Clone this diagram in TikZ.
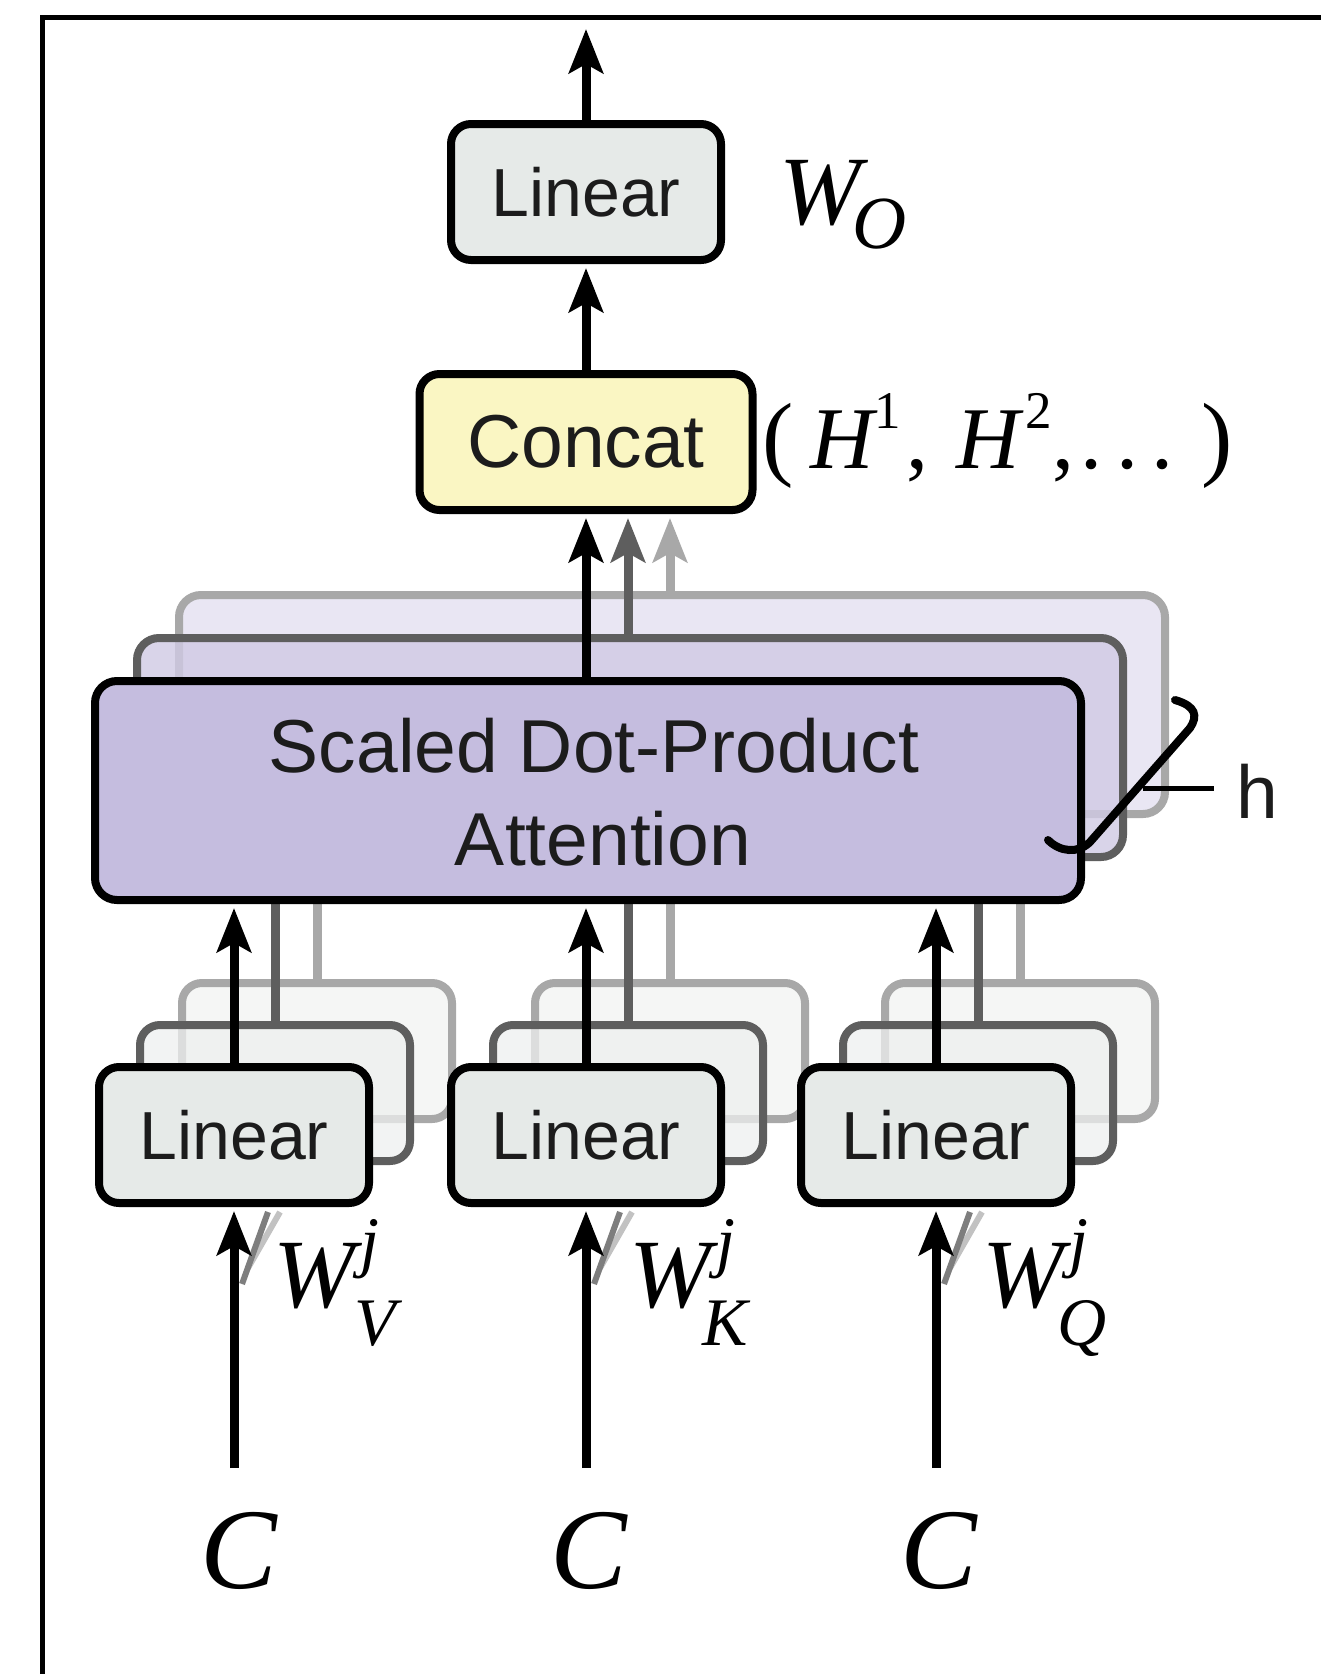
\documentclass[tikz,border=0pt]{standalone}
\usepackage{fontspec}
\setmainfont{Liberation Serif}
\setsansfont{Liberation Sans}
\usetikzlibrary{arrows.meta}
\definecolor{linfill}{HTML}{E6EAE8}
\definecolor{linfillB}{HTML}{EEF0EF}
\definecolor{linfillC}{HTML}{F5F6F5}
\definecolor{catfill}{HTML}{FAF6C3}
\definecolor{attfill}{HTML}{C5BDDF}
\definecolor{attfillB}{HTML}{D0CAE4}
\definecolor{attfillC}{HTML}{E9E6F3}
\definecolor{grayB}{HTML}{5E5E5E}
\definecolor{grayC}{HTML}{A8A8A8}
\definecolor{ink}{HTML}{1C1C1C}
\newcommand\fsz[1]{\fontsize{#1}{#1}\selectfont}
\begin{document}
\begin{tikzpicture}[x=1pt,y=-1pt,
  lin/.style={draw=black, line width=8pt, rounded corners=20pt, fill=linfill, text=ink,
    minimum width=270pt, minimum height=136pt, inner sep=0pt, font=\sffamily\fsz{68}},
  linB/.style={lin, draw=grayB, fill=linfillB, fill opacity=0.75},
  linC/.style={lin, draw=grayC, fill=linfillC},
  catbox/.style={lin, fill=catfill, minimum width=333pt, font=\sffamily\fsz{75}},
  att/.style={draw=black, line width=8pt, rounded corners=22pt, fill=attfill,
    minimum width=986pt, minimum height=219pt, inner sep=0pt},
  attB/.style={att, draw=grayB, fill=attfillB, fill opacity=0.8},
  attC/.style={att, draw=grayC, fill=attfillC},
  arr/.style={line width=9pt, -{Stealth[length=44pt,width=34pt,inset=9pt]}, shorten >=4pt},
  arrB/.style={arr, draw=grayB, color=grayB},
  arrC/.style={arr, draw=grayC, color=grayC},
  lineB/.style={line width=9pt, draw=grayB},
  lineC/.style={line width=9pt, draw=grayC},
  txt/.style={inner sep=0pt, anchor=base west},
  sans/.style={inner sep=0pt, anchor=base, text=ink, font=\sffamily\fsz{75}}
]
\useasboundingbox (0,0) rectangle (1321,1674);
\fill[white] (0,0) rectangle (1321,1674);
% frame
\draw[line width=5pt] (42.5,1700) -- (42.5,17) -- (1340,17);

% ---------- layer 3 (lightest) ----------
\node[attC] (attc) at (672,704.5) {};
\node[linC] (lc1) at (317,1051) {};
\node[linC] (lc2) at (670,1051) {};
\node[linC] (lc3) at (1020,1051) {};
\draw[lineC] (lc1.north) -- (lc1.north |- attc.south);
\draw[lineC] (lc2.north) -- (lc2.north |- attc.south);
\draw[lineC] (lc3.north) -- (lc3.north |- attc.south);

% ---------- layer 2 ----------
\node[attB] (attb) at (630,747.5) {};
\node[linB] (lb1) at (275,1093) {};
\node[linB] (lb2) at (628,1093) {};
\node[linB] (lb3) at (978,1093) {};
\draw[lineB] (lb1.north) -- (lb1.north |- attb.south);
\draw[lineB] (lb2.north) -- (lb2.north |- attb.south);
\draw[lineB] (lb3.north) -- (lb3.north |- attb.south);

% ---------- top part ----------
\node[catbox] (cat) at (586,442) {Concat};
\node[lin] (lin0) at (586,192) {Linear};
\coordinate (out) at (586,29);
\draw[arr, shorten >=0pt] (lin0.north) -- (out);
\draw[arr] (cat.north) -- (lin0.south);
\draw[arrC] (lc2.north |- attc.north) -- (lc2.north |- cat.south);
\draw[arrB] (lb2.north |- attb.north) -- (lb2.north |- cat.south);

% ---------- front layer ----------
\node[att] (atta) at (588,790.5) {};
\node[sans] (t1) at (594,772) {Scaled Dot-Product};
\node[sans] (t2) at (603,865) {Attention};
\draw[arr] (atta.north -| cat.south) -- (cat.south);

% input gray diagonals
\foreach \cx/\n in {234/1,586/2,936/3}{
  \coordinate (dgA\n) at (\cx+8,1284);
  \coordinate (dgB\n) at (\cx+34,1212);
  \coordinate (dgC\n) at (\cx+14,1268);
  \coordinate (dgD\n) at (\cx+46,1212);
  \draw[grayC!70, line width=6pt] (dgC\n) -- (dgD\n);
  \draw[grayB!80, line width=6pt] (dgA\n) -- (dgB\n);
}

\node[lin] (la1) at (234,1135) {Linear};
\node[lin] (la2) at (586,1135) {Linear};
\node[lin] (la3) at (936,1135) {Linear};
\draw[arr] (la1.north) -- (la1.north |- atta.south);
\draw[arr] (la2.north) -- (la2.north |- atta.south);
\draw[arr] (la3.north) -- (la3.north |- atta.south);

\coordinate (in1) at (234,1468);
\coordinate (in2) at (586,1468);
\coordinate (in3) at (936,1468);
\draw[arr] (in1) -- (la1.south);
\draw[arr] (in2) -- (la2.south);
\draw[arr] (in3) -- (la3.south);

% ---------- h bracket ----------
\coordinate (hb0) at (1175,700);
\coordinate (hb1) at (1190,728);
\coordinate (hb2) at (1090,842);
\coordinate (hb3) at (1048,840);
\draw[line width=8pt, line cap=round] (hb0) .. controls (1196,706) and (1198,716) .. (hb1) -- (hb2) .. controls (1078,854) and (1060,852) .. (hb3);
\coordinate (ht0) at (1143,788);
\coordinate (ht1) at (1214,788);
\draw[line width=5pt] (ht0) -- (ht1);
\node[inner sep=0pt, anchor=base west, text=ink, font=\sffamily\fsz{75}] (hlab) at (1236,818) {h};

% ---------- math labels ----------
\node[txt, font=\fsz{98}\itshape] (wo) at (779,224) {W};
\node[txt, font=\fsz{75}\itshape] (wosub) at (852,248) {O};

\node[txt, font=\fsz{94}] (hp1) at (762,468) {(};
\node[txt, font=\fsz{88}\itshape] (hh1) at (810,468) {H};
\node[txt, font=\fsz{53}] (hs1) at (874,428) {1};
\node[txt, font=\fsz{88}] (hc1) at (906,468) {,};
\node[txt, font=\fsz{88}\itshape] (hh2) at (956,468) {H};
\node[txt, font=\fsz{53}] (hs2) at (1025,428) {2};
\node[txt, font=\fsz{88}] (hc2) at (1052,468) {,};
\node[txt, font=\fsz{88}] (hd1) at (1080,468) {.};
\node[txt, font=\fsz{88}] (hd2) at (1116,468) {.};
\node[txt, font=\fsz{88}] (hd3) at (1151,468) {.};
\node[txt, font=\fsz{94}] (hp2) at (1201,468) {)};

\node[txt, font=\fsz{98}\itshape] (wv) at (273,1307) {W};
\node[txt, font=\fsz{68}\itshape] (wvj) at (360,1264) {j};
\node[txt, font=\fsz{68}\itshape] (wvs) at (354,1345) {V};
\node[txt, font=\fsz{98}\itshape] (wk) at (629,1307) {W};
\node[txt, font=\fsz{68}\itshape] (wkj) at (716,1264) {j};
\node[txt, font=\fsz{68}\itshape] (wks) at (702,1345) {K};
\node[txt, font=\fsz{98}\itshape] (wq) at (982,1307) {W};
\node[txt, font=\fsz{68}\itshape] (wqj) at (1069,1264) {j};
\node[txt, font=\fsz{68}\itshape] (wqs) at (1057,1345) {Q};

\node[txt, font=\fsz{115}\itshape] (c1) at (200,1588) {C};
\node[txt, font=\fsz{115}\itshape] (c2) at (550,1588) {C};
\node[txt, font=\fsz{115}\itshape] (c3) at (900,1588) {C};
\end{tikzpicture}
\end{document}
